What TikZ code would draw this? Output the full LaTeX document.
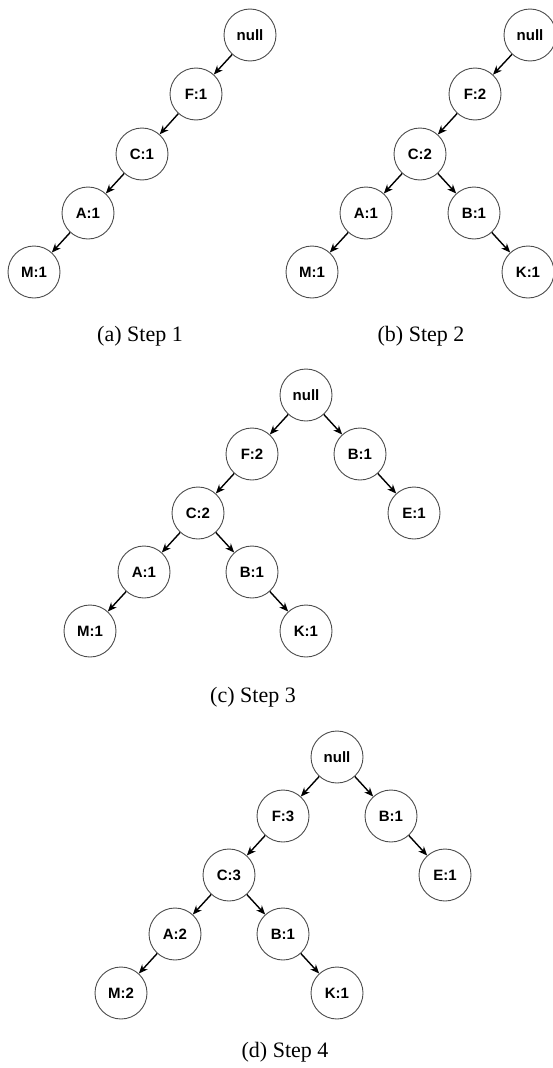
\documentclass[tikz,border=0pt]{standalone}
\usepackage{fontspec}
\setmainfont{Liberation Serif}
\setsansfont{Liberation Sans}
\usetikzlibrary{arrows.meta}
\begin{document}
\begin{tikzpicture}[x=1pt,y=-1pt,
  nd/.style={circle, draw=black!70, line width=0.9pt, minimum size=52pt, inner sep=0pt,
    font=\sffamily\bfseries\fontsize{15}{17}\selectfont},
  arr/.style={-{Stealth[length=9pt,width=7.5pt]}, line width=1.4pt},
  capt/.style={anchor=base, inner sep=0pt, font=\fontsize{22}{26}\selectfont}]
\useasboundingbox (0,0) rectangle (553,1068);
% ---------- (a) ----------
\node[nd] (a0) at (250,35) {null};
\node[nd] (a1) at (196,94) {F:1};
\node[nd] (a2) at (142,154) {C:1};
\node[nd] (a3) at (88,213) {A:1};
\node[nd] (a4) at (34,272) {M:1};
\draw[arr] (a0) -- (a1);
\draw[arr] (a1) -- (a2);
\draw[arr] (a2) -- (a3);
\draw[arr] (a3) -- (a4);
\node[capt] (capa) at (140,341) {(a) Step 1};
% ---------- (b) ----------
\node[nd] (b0) at (530,35) {null};
\node[nd] (b1) at (475,94) {F:2};
\node[nd] (b2) at (420,154) {C:2};
\node[nd] (b3) at (366,213) {A:1};
\node[nd] (b4) at (474,213) {B:1};
\node[nd] (b5) at (312,272) {M:1};
\node[nd] (b6) at (528,272) {K:1};
\draw[arr] (b0) -- (b1);
\draw[arr] (b1) -- (b2);
\draw[arr] (b2) -- (b3);
\draw[arr] (b2) -- (b4);
\draw[arr] (b3) -- (b5);
\draw[arr] (b4) -- (b6);
\node[capt] (capb) at (421,341) {(b) Step 2};
% ---------- (c) ----------
\node[nd] (c0) at (306,395) {null};
\node[nd] (c1) at (252,454) {F:2};
\node[nd] (c2) at (360,454) {B:1};
\node[nd] (c3) at (198,513) {C:2};
\node[nd] (c4) at (414,513) {E:1};
\node[nd] (c5) at (144,572) {A:1};
\node[nd] (c6) at (252,572) {B:1};
\node[nd] (c7) at (90,631) {M:1};
\node[nd] (c8) at (306,631) {K:1};
\draw[arr] (c0) -- (c1);
\draw[arr] (c0) -- (c2);
\draw[arr] (c1) -- (c3);
\draw[arr] (c2) -- (c4);
\draw[arr] (c3) -- (c5);
\draw[arr] (c3) -- (c6);
\draw[arr] (c5) -- (c7);
\draw[arr] (c6) -- (c8);
\node[capt] (capc) at (253,702) {(c) Step 3};
% ---------- (d) ----------
\node[nd] (d0) at (337,757) {null};
\node[nd] (d1) at (283,816) {F:3};
\node[nd] (d2) at (391,816) {B:1};
\node[nd] (d3) at (229,875) {C:3};
\node[nd] (d4) at (445,875) {E:1};
\node[nd] (d5) at (175,934) {A:2};
\node[nd] (d6) at (283,934) {B:1};
\node[nd] (d7) at (121,993) {M:2};
\node[nd] (d8) at (337,993) {K:1};
\draw[arr] (d0) -- (d1);
\draw[arr] (d0) -- (d2);
\draw[arr] (d1) -- (d3);
\draw[arr] (d2) -- (d4);
\draw[arr] (d3) -- (d5);
\draw[arr] (d3) -- (d6);
\draw[arr] (d5) -- (d7);
\draw[arr] (d6) -- (d8);
\node[capt] (capd) at (285,1057) {(d) Step 4};
\end{tikzpicture}
\end{document}
